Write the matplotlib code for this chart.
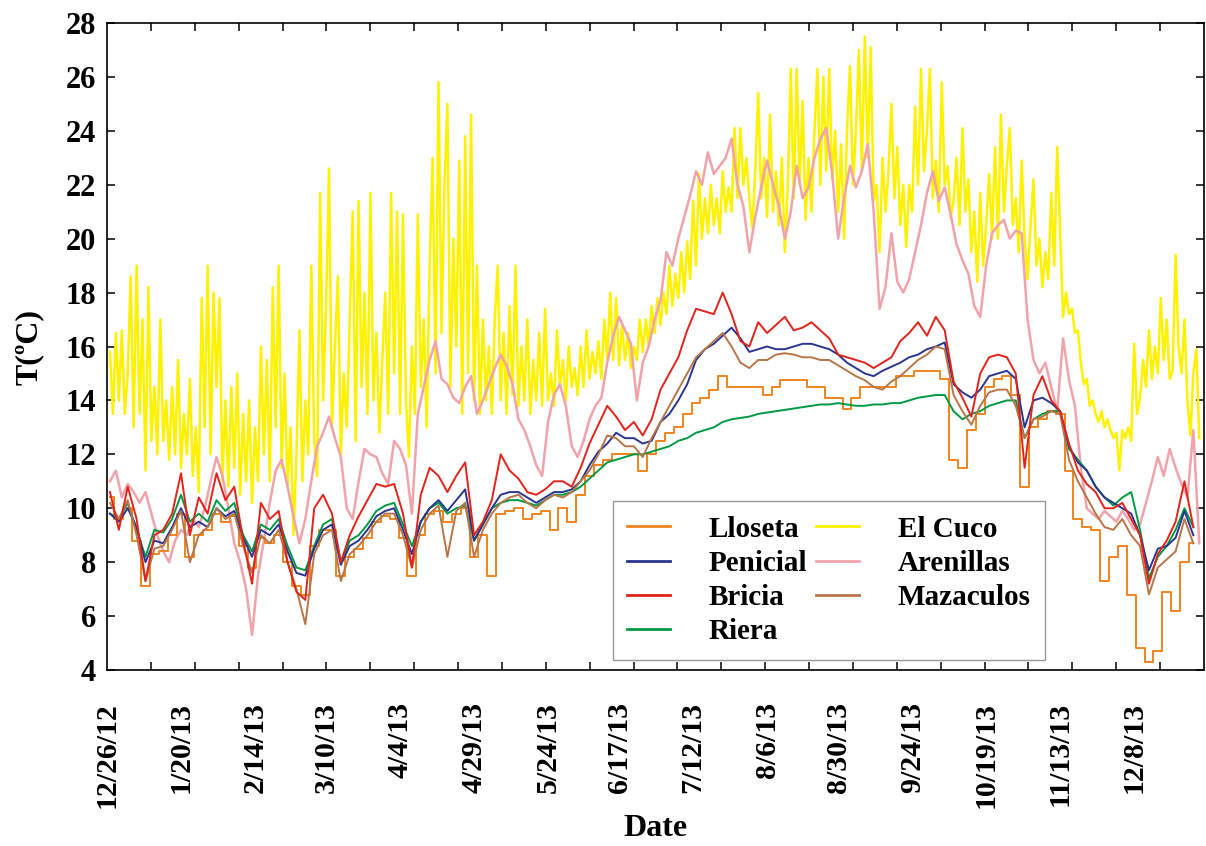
import numpy as np
import pandas as pd
import matplotlib
matplotlib.use("Agg")
import matplotlib.pyplot as plt

# logger series: bottom group every 3 days, Arenillas every 2 days, El Cuco daily
dates3 = pd.date_range("2012-12-27", periods=123, freq="3D")
dates2 = pd.date_range("2012-12-27", periods=185, freq="2D")
dates1 = pd.date_range("2012-12-27", periods=369, freq="D")

riera = [9.8, 9.6, 10.2, 9.2, 8.2, 9.2, 9.1, 9.6, 10.5, 9.5,
         9.8, 9.5, 10.3, 9.9, 10.2, 9.0, 8.4, 9.4, 9.2, 9.6,
         8.6, 7.8, 7.7, 8.6, 9.4, 9.6, 8.0, 8.8, 9.0, 9.4,
         9.9, 10.1, 10.2, 9.4, 8.6, 9.5, 10.0, 10.2, 9.8, 10.0,
         10.1, 8.8, 9.4, 10.0, 10.2, 10.3, 10.3, 10.2, 10.1, 10.3,
         10.5, 10.5, 10.6, 10.8, 11.1, 11.4, 11.7, 11.8, 11.9, 12.0,
         12.0, 12.1, 12.2, 12.3, 12.5, 12.6, 12.8, 12.9, 13.0, 13.2,
         13.3, 13.35, 13.4, 13.5, 13.55, 13.6, 13.65, 13.7, 13.75, 13.8,
         13.85, 13.85, 13.9, 13.85, 13.8, 13.8, 13.85, 13.85, 13.9, 13.9,
         14.0, 14.1, 14.15, 14.2, 14.2, 13.6, 13.3, 13.5, 13.6, 13.8,
         13.9, 14.0, 14.0, 12.6, 13.3, 13.5, 13.6, 13.6, 12.2, 11.8,
         11.4, 10.8, 10.4, 10.1, 10.4, 10.6, 9.2, 7.4, 8.2, 8.6,
         9.2, 10.0, 9.3]

penicial = [9.8, 9.5, 10.0, 9.3, 8.0, 8.8, 8.7, 9.3, 10.0, 9.3,
            9.5, 9.3, 10.0, 9.7, 9.9, 8.9, 8.2, 9.2, 9.0, 9.4,
            8.4, 7.6, 7.5, 8.5, 9.2, 9.4, 7.9, 8.6, 8.8, 9.2,
            9.7, 9.9, 10.0, 9.2, 8.3, 9.5, 10.0, 10.3, 9.9, 10.3,
            10.7, 8.8, 9.4, 10.0, 10.5, 10.6, 10.6, 10.4, 10.2, 10.4,
            10.6, 10.6, 10.7, 11.0, 11.6, 12.1, 12.4, 12.8, 12.6, 12.6,
            12.4, 12.5, 13.2, 13.5, 14.0, 14.6, 15.5, 15.9, 16.1, 16.4,
            16.7, 16.3, 15.8, 15.9, 16.0, 15.9, 15.9, 16.0, 16.1, 16.1,
            16.0, 15.9, 15.7, 15.4, 15.2, 15.0, 14.9, 15.1, 15.25, 15.4,
            15.6, 15.7, 15.9, 16.0, 16.15, 14.6, 14.3, 14.1, 14.4, 14.9,
            15.0, 15.1, 14.8, 13.0, 14.0, 14.1, 13.9, 13.6, 12.3, 11.7,
            11.4, 10.8, 10.4, 10.2, 10.0, 9.8, 9.0, 7.7, 8.5, 8.6,
            8.9, 9.9, 9.0]

mazaculos = [10.2, 9.6, 10.3, 9.0, 7.3, 8.5, 8.6, 9.2, 9.9, 8.0,
             9.0, 9.3, 10.0, 9.6, 9.8, 8.6, 7.6, 9.0, 8.7, 9.2,
             8.0, 7.0, 5.7, 8.3, 9.0, 9.2, 7.3, 8.3, 8.6, 9.0,
             9.5, 9.8, 9.8, 9.0, 7.8, 9.2, 9.8, 10.1, 8.2, 9.9,
             10.2, 8.2, 9.2, 9.8, 10.2, 10.4, 10.5, 10.2, 10.0, 10.3,
             10.5, 10.4, 10.6, 11.0, 11.4, 12.0, 12.7, 12.6, 12.3, 12.3,
             11.9, 12.6, 13.2, 13.8, 14.4, 15.0, 15.6, 15.9, 16.2, 16.5,
             16.0, 15.4, 15.2, 15.5, 15.5, 15.7, 15.75, 15.7, 15.6, 15.6,
             15.5, 15.5, 15.3, 15.1, 14.9, 14.75, 14.5, 14.4, 14.7, 14.9,
             15.2, 15.5, 15.7, 16.0, 15.9, 14.2, 13.6, 13.1, 13.8, 14.3,
             14.4, 14.4, 13.8, 12.6, 13.3, 13.4, 13.6, 13.5, 11.8, 11.0,
             10.4, 9.8, 9.3, 9.2, 9.6, 9.0, 8.6, 6.8, 7.8, 8.1,
             8.4, 9.6, 8.7]

bricia = [10.6, 9.2, 10.8, 9.6, 7.3, 9.0, 9.2, 9.8, 11.3, 9.0,
          10.4, 9.8, 11.3, 10.3, 10.8, 8.8, 7.2, 10.2, 9.6, 9.9,
          8.0, 6.9, 6.6, 10.0, 10.5, 9.8, 8.0, 9.0, 9.7, 10.3,
          10.9, 10.8, 10.9, 9.8, 7.8, 10.5, 11.5, 11.2, 10.6, 11.2,
          11.7, 9.0, 9.5, 10.3, 12.0, 11.4, 11.1, 10.6, 10.5, 10.7,
          11.0, 11.0, 10.8, 11.5, 12.4, 13.1, 13.8, 13.4, 12.9, 13.2,
          12.7, 13.3, 14.4, 15.0, 15.6, 16.6, 17.4, 17.3, 17.2, 18.0,
          17.2, 16.2, 16.0, 16.9, 16.5, 16.8, 17.1, 16.6, 16.7, 16.9,
          16.6, 16.3, 15.7, 15.6, 15.5, 15.4, 15.2, 15.4, 15.6, 16.2,
          16.5, 16.9, 16.4, 17.1, 16.6, 14.7, 14.1, 13.4, 15.0, 15.6,
          15.7, 15.6, 15.0, 11.5, 14.2, 14.9, 14.0, 13.6, 12.4, 11.4,
          10.9, 10.6, 10.0, 10.0, 10.2, 9.6, 9.0, 7.2, 8.3, 8.8,
          9.5, 11.0, 9.3]

lloseta = [10.4, 9.6, 10.0, 8.8, 7.1, 8.3, 8.4, 9.0, 9.8, 8.2,
           9.0, 9.2, 9.8, 9.5, 9.7, 8.6, 7.8, 8.9, 8.7, 9.0,
           8.0, 7.1, 6.8, 8.6, 9.2, 9.2, 7.5, 8.2, 8.5, 8.9,
           9.5, 9.7, 9.6, 8.9, 7.5, 9.0, 9.8, 9.9, 9.5, 9.8,
           10.0, 8.2, 9.0, 7.5, 9.8, 9.9, 10.0, 9.6, 9.8, 9.9,
           9.2, 10.0, 9.5, 10.5, 11.2, 11.6, 11.8, 12.0, 12.0, 12.0,
           11.4, 12.0, 12.5, 12.8, 13.0, 13.5, 13.9, 14.1, 14.4, 14.9,
           14.5, 14.5, 14.5, 14.5, 14.2, 14.5, 14.75, 14.75, 14.75, 14.5,
           14.5, 14.1, 14.1, 13.7, 14.1, 14.5, 14.5, 14.5, 14.5, 14.9,
           14.9, 15.1, 15.1, 15.1, 14.8, 11.8, 11.5, 12.9, 13.5, 14.5,
           14.8, 14.9, 14.2, 10.8, 13.0, 13.3, 13.6, 13.5, 11.4, 9.6,
           9.3, 9.2, 7.3, 8.2, 8.6, 6.8, 4.8, 4.3, 4.7, 6.9,
           6.2, 8.0, 8.7]

el_cuco = [15.8, 13.5, 16.5, 14.0, 16.6, 13.5, 15.0, 18.6, 13.0, 19.0,
           13.5, 17.0, 11.4, 18.2, 12.5, 14.5, 12.0, 17.0, 12.5, 14.0,
           11.8, 14.5, 12.0, 15.5, 11.5, 13.5, 12.0, 14.8, 11.2, 13.0,
           10.6, 17.8, 13.0, 19.0, 12.0, 18.0, 14.5, 17.8, 11.0, 14.0,
           10.8, 14.5, 11.5, 15.0, 10.5, 13.5, 11.0, 14.0, 10.2, 13.0,
           11.0, 16.0, 12.0, 15.5, 11.0, 18.2, 13.0, 19.0, 11.5, 15.0,
           10.8, 13.0, 9.0, 12.0, 16.6, 11.0, 14.0, 12.0, 19.0, 12.5,
           11.2, 21.7, 14.0, 17.5, 22.6, 13.0, 16.0, 18.6, 12.0, 15.0,
           13.0, 17.0, 21.0, 12.5, 21.4, 14.5, 18.0, 13.5, 21.7, 14.0,
           16.5, 12.8, 15.5, 18.0, 13.5, 21.7, 15.0, 21.0, 13.5, 20.9,
           14.0, 11.9, 16.0, 13.5, 20.9, 14.5, 17.0, 13.0, 19.0, 23.0,
           15.0, 25.8, 16.5, 22.0, 25.0, 14.5, 20.0, 16.0, 22.9, 13.5,
           23.8, 15.0, 24.6, 14.0, 19.0, 13.5, 17.0, 14.0, 16.0, 13.5,
           17.0, 19.0, 14.0, 16.5, 13.5, 17.5, 14.2, 19.0, 13.8, 16.0,
           14.0, 17.0, 13.5, 15.5, 14.0, 16.5, 13.8, 17.4, 14.0, 15.0,
           13.8, 16.6, 14.5, 15.5, 14.0, 16.0, 14.5, 15.2, 14.2, 16.0,
           14.5, 16.6, 14.8, 15.8, 15.0, 16.2, 14.8, 17.0, 15.5, 18.0,
           15.5, 17.8, 15.3, 16.8, 15.5, 16.5, 15.2, 16.0, 15.5, 17.0,
           15.8, 17.0, 16.0, 17.5, 16.5, 17.8, 16.8, 18.0, 17.2, 19.0,
           17.5, 18.7, 17.8, 19.5, 18.0, 19.9, 18.5, 21.4, 19.0, 22.4,
           20.0, 21.5, 20.2, 22.0, 20.5, 21.5, 20.2, 22.5, 21.0, 21.9,
           21.0, 24.1, 21.5, 24.1, 22.0, 23.0, 21.5, 20.4, 22.5, 25.4,
           21.5, 23.0, 20.8, 24.6, 21.0, 22.5, 20.5, 23.0, 19.5, 22.0,
           26.3, 21.5, 26.3, 22.0, 25.1, 20.7, 23.0, 21.0, 24.0, 26.3,
           22.0, 26.0, 22.5, 26.3, 22.2, 24.0, 21.0, 23.5, 20.0, 24.0,
           26.4, 22.0, 24.0, 27.0, 22.5, 27.5, 23.0, 27.1, 21.4, 22.0,
           19.5, 23.0, 21.0, 22.5, 25.0, 21.5, 23.4, 20.5, 22.0, 19.7,
           22.0, 21.0, 24.9, 22.0, 26.3, 22.5, 24.0, 26.3, 21.5, 22.9,
           21.0, 25.8, 22.0, 22.7, 20.8, 21.4, 23.0, 20.5, 24.1, 21.0,
           22.2, 19.5, 21.0, 18.4, 21.7, 19.0, 20.5, 22.4, 20.0, 23.4,
           20.0, 24.6, 21.0, 22.7, 24.1, 20.5, 21.5, 19.5, 22.9, 20.0,
           18.5, 20.5, 22.2, 19.0, 20.0, 18.2, 19.5, 18.5, 21.7, 19.0,
           23.4, 20.2, 17.1, 18.0, 17.2, 17.4, 16.5, 16.6, 15.4, 14.6,
           14.8, 13.8, 14.0, 13.5, 13.2, 13.6, 13.0, 13.3, 12.9, 12.6,
           12.8, 11.4, 12.9, 12.6, 13.0, 12.5, 16.1, 13.5, 14.1, 15.5,
           14.5, 16.6, 14.8, 16.0, 15.0, 17.8, 15.5, 17.0, 14.8, 15.1,
           19.4, 16.0, 15.0, 17.0, 14.0, 12.7, 15.0, 15.9, 12.6]

arenillas = [11.0, 11.4, 10.4, 10.9, 10.6, 10.2, 10.6, 9.8, 9.0, 8.4,
             8.0, 8.8, 9.2, 9.0, 9.6, 9.3, 10.0, 11.0, 11.9, 11.2,
             10.0, 8.7, 8.0, 7.0, 5.3, 7.5, 8.8, 10.2, 11.4, 11.8,
             10.8, 9.7, 8.7, 9.6, 11.0, 12.3, 12.8, 13.4, 12.6, 11.9,
             10.0, 9.6, 11.0, 12.2, 12.0, 11.9, 11.3, 10.9, 12.5, 12.2,
             11.6, 9.8, 13.5, 14.5, 15.5, 16.2, 14.8, 14.6, 14.1, 13.9,
             14.5, 14.9, 13.5, 14.0, 14.6, 15.2, 15.7, 15.3, 14.6, 13.3,
             12.9, 12.3, 11.6, 11.2, 13.2, 14.2, 14.6, 13.8, 12.3, 11.9,
             12.5, 13.3, 13.8, 14.1, 15.4, 16.4, 17.1, 16.6, 16.1, 14.0,
             15.4, 16.0, 17.0, 17.7, 19.5, 19.0, 20.0, 20.8, 21.6, 22.5,
             22.0, 23.2, 22.4, 22.7, 23.0, 23.7, 22.0, 21.2, 19.5, 20.8,
             21.9, 22.9, 22.0, 21.2, 20.0, 21.0, 22.7, 21.5, 21.9, 23.0,
             23.7, 24.1, 22.4, 20.0, 21.5, 22.7, 21.9, 22.5, 23.5, 21.0,
             17.4, 18.2, 20.2, 18.4, 18.0, 18.5, 19.5, 20.5, 21.7, 22.5,
             21.4, 21.9, 20.9, 19.8, 19.2, 18.7, 17.5, 17.1, 19.0, 20.2,
             20.5, 20.7, 20.0, 20.3, 20.2, 17.0, 15.5, 15.0, 15.4, 14.5,
             13.6, 16.3, 14.75, 13.8, 11.5, 10.0, 9.8, 9.6, 9.9, 9.7,
             9.5, 9.9, 9.6, 9.2, 9.4, 10.2, 11.0, 11.9, 11.2, 12.2,
             11.5, 10.9, 10.4, 12.9, 8.7]

date_labels = ["12/26/12", "1/20/13", "2/14/13", "3/10/13", "4/4/13", "4/29/13",
               "5/24/13", "6/17/13", "7/12/13", "8/6/13", "8/30/13", "9/24/13",
               "10/19/13", "11/13/13", "12/8/13"]

plt.rcParams["font.family"] = ["Liberation Serif", "DejaVu Serif"]
plt.rcParams["font.weight"] = "bold"

fig = plt.figure(figsize=(12.06, 8.46), dpi=100)
ax = fig.add_axes([107 / 1206, 1 - 670 / 846, 1097 / 1206, 647 / 846])

lw = 1.4
l_cuco, = ax.plot(dates1, el_cuco, color="#FFF200", lw=1.8, label="El Cuco")
l_aren, = ax.plot(dates2, arenillas, color="#F0A3AA", lw=1.8, label="Arenillas")
l_llos, = ax.plot(dates3, lloseta, color="#F0841C", lw=lw, drawstyle="steps-mid", label="Lloseta")
l_rier, = ax.plot(dates3, riera, color="#009A44", lw=lw, label="Riera")
l_peni, = ax.plot(dates3, penicial, color="#2A3590", lw=lw, label="Penicial")
l_maza, = ax.plot(dates3, mazaculos, color="#B87548", lw=lw, label="Mazaculos")
l_bric, = ax.plot(dates3, bricia, color="#E2231A", lw=lw, label="Bricia")

start = pd.Timestamp("2012-12-26")
end = start + pd.Timedelta(days=370.6)
ax.set_xlim(start, end)
ax.set_ylim(4, 28)
ax.set_yticks(np.arange(4, 29, 2))

label_pos = pd.to_datetime(date_labels, format="%m/%d/%y")
ax.set_xticks(label_pos)
ax.set_xticklabels(date_labels, rotation=90)
# evenly spaced tick marks, independent of the date labels
minor = pd.date_range(start, end, periods=26)[1:-1]
ax.set_xticks(minor, minor=True)

ax.tick_params(axis="x", which="major", length=0, pad=23, labelsize=21.5)
ax.tick_params(axis="x", which="minor", direction="in", length=6, width=1.1,
               top=True, bottom=True)
ax.tick_params(axis="y", which="major", direction="in", length=6, width=1.1,
               left=True, right=True, labelsize=22, pad=8)
for sp in ax.spines.values():
    sp.set_linewidth(1.2)

ax.set_ylabel("T(ºC)", fontsize=23, fontweight="bold")
ax.yaxis.set_label_coords(-0.058, 0.5)
ax.set_xlabel("Date", fontsize=23, fontweight="bold")
ax.xaxis.set_label_coords(0.5, -0.222)

handles = [l_llos, l_peni, l_bric, l_rier, l_cuco, l_aren, l_maza]
leg = ax.legend(handles=handles, labels=[h.get_label() for h in handles],
                ncol=2, loc="lower left", bbox_to_anchor=(0.461, 0.0155),
                borderaxespad=0, fancybox=False, framealpha=1, edgecolor="#999999",
                prop={"family": "Liberation Serif", "weight": "bold", "size": 21},
                handlelength=1.45, handletextpad=1.35, columnspacing=0.3,
                labelspacing=0.25, borderpad=0.5)
leg.get_frame().set_linewidth(1.0)
for h in leg.legend_handles:
    h.set_linewidth(2.0)
    h.set_drawstyle("default")

fig.savefig("out.png", dpi=100)
